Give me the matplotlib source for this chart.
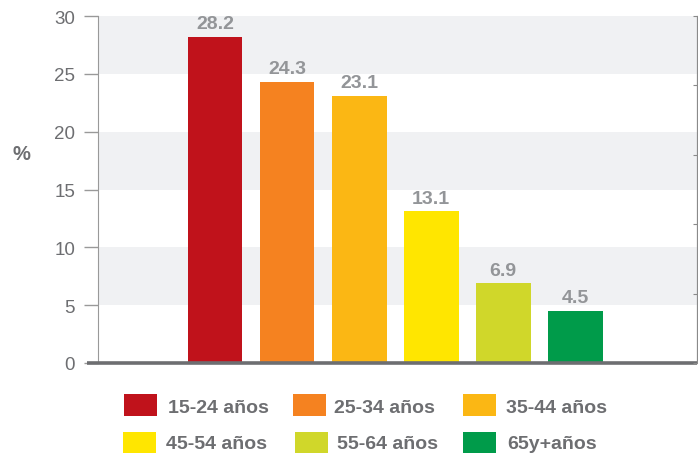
import matplotlib
matplotlib.use("Agg")
import matplotlib.pyplot as plt
from matplotlib.patches import Rectangle

categories = ["15-24 años", "25-34 años", "35-44 años", "45-54 años", "55-64 años", "65y+años"]
values = [28.2, 24.3, 23.1, 13.1, 6.9, 4.5]
colors = ["#c0121b", "#f58220", "#fbb714", "#ffe600", "#d0d72a", "#009b4a"]
yticks = [0, 5, 10, 15, 20, 25, 30]

plt.rcParams['font.family'] = ['Liberation Sans', 'DejaVu Sans']
W, H = 698, 456
fig = plt.figure(figsize=(W / 100, H / 100), dpi=100)
ax = fig.add_axes([98 / W, (H - 364) / H, 599 / W, 347 / H])

tick_col = "#6d6e71"
lab_col = "#939598"

# background bands
for lo in [5, 15, 25]:
    ax.axhspan(lo, lo + 5, color="#f0f1f3", zorder=0, lw=0)

x = list(range(len(values)))
ax.bar(x, values, width=0.76, color=colors, zorder=2)
for xi, v in zip(x, values):
    ax.text(xi, v + 0.4, f"{v:.1f}", ha="center", va="bottom", fontsize=14,
            fontweight="bold", color=lab_col, zorder=3)

ax.set_xlim(-1.625, 6.69)
ax.set_ylim(0, 30)
ax.set_yticks(yticks)
ax.set_xticks([])
ax.tick_params(axis="y", direction="out", length=10, width=1, color="#999999",
               labelcolor=tick_col, labelsize=13.5, pad=6.5)
ax.spines["top"].set_visible(False)
ax.spines["left"].set_color("#999999")
ax.spines["right"].set_color("#8a8a8a")
ax.spines["bottom"].set_visible(False)
ax.plot([-11 / 599, 1.0], [0, 0], transform=ax.transAxes, color="#6d6e71", lw=2.6,
        clip_on=False, zorder=5, solid_capstyle="butt")

ax2 = ax.twinx()
ax2.set_ylim(0, 5)
ax2.set_yticks([0, 1, 2, 3, 4, 5])
ax2.tick_params(axis="y", direction="in", length=3, color="#8a8a8a", labelright=False)
for s in ["top", "bottom", "left"]:
    ax2.spines[s].set_visible(False)
ax2.spines["right"].set_color("#8a8a8a")

fig.text(21 / W, 1 - 154 / H, "%", fontsize=14.5, fontweight="bold", color=tick_col,
         ha="center", va="center")

# legend
patch_x = [124, 293, 463, 123, 295, 463]
text_x = [168, 334, 506, 166, 337, 507]
rows = [(395, 417), (433, 454)]
text_y = [409, 445]
for i, (cat, col) in enumerate(zip(categories, colors)):
    r = i // 3
    y0, y1 = rows[r]
    fig.patches.append(Rectangle((patch_x[i] / W, 1 - y1 / H), 33 / W, (y1 - y0) / H,
                                 transform=fig.transFigure, color=col, lw=0))
    fig.text(text_x[i] / W, 1 - text_y[r] / H, cat, fontsize=14,
             fontweight="bold", color=tick_col, ha="left", va="center")

fig.savefig("out.png", dpi=100)
